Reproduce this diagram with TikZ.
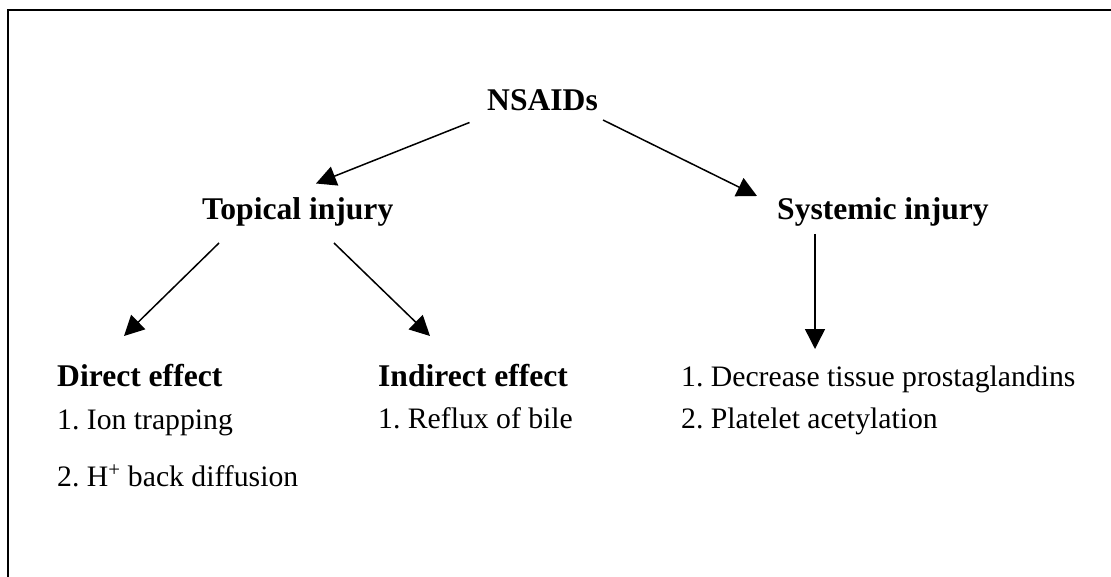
\documentclass[tikz,border=0pt]{standalone}
\usepackage{fontspec}
\setmainfont{Liberation Serif}
\usetikzlibrary{arrows.meta}
\frenchspacing
\tikzset{
  head/.style={anchor=base west, inner sep=0pt, font=\fontsize{31.6}{36}\selectfont\bfseries},
  item/.style={anchor=base west, inner sep=0pt, font=\fontsize{29.7}{34}\selectfont},
  arr/.style={line width=1.5pt, -{Triangle[length=20pt,width=20pt]}},
  frame/.style={line width=2.7pt, line cap=rect}
}
\begin{document}
\begin{tikzpicture}[x=1pt,y=-1pt]
\useasboundingbox (0,0) rectangle (1111,577);
% frame (top and left edges)
\coordinate (fc) at (8,10);
\coordinate (fr) at (1112,10);
\coordinate (fb) at (8,578);
\draw[frame] (fr) -- (fc) -- (fb);

% nodes
\node[head] (nsaids) at (487,111) {NSAIDs};
\node[head] (topical) at (202,220) {Topical injury};
\node[head] (systemic) at (777,220) {Systemic injury};

\node[head] (direct) at (57,386) {Direct effect};
\node[item] (ion) at (57,429) {1. Ion trapping};
\node[item] (hplus) at (57,486) {2. H\textsuperscript{+} back diffusion};

\node[head] (indirect) at (378,386) {Indirect effect};
\node[item] (reflux) at (378,428) {1. Reflux of bile};

\node[item] (decrease) at (681,386) {1. Decrease tissue prostaglandins};
\node[item] (platelet) at (681,428) {2. Platelet acetylation};

% connector end points
\coordinate (nl) at (469.5,122.5);
\coordinate (nr) at (603,120);
\coordinate (tin) at (316,183.5);
\coordinate (sin) at (757,196);
\coordinate (tl) at (219,243);
\coordinate (tr) at (334,243);
\coordinate (dtip) at (124,336);
\coordinate (itip) at (430,336);
\coordinate (sout) at (815,234);
\coordinate (stip) at (815,349);

\draw[arr] (nl) -- (tin);
\draw[arr] (nr) -- (sin);
\draw[arr] (tl) -- (dtip);
\draw[arr] (tr) -- (itip);
\draw[arr] (sout) -- (stip);
\end{tikzpicture}
\end{document}
